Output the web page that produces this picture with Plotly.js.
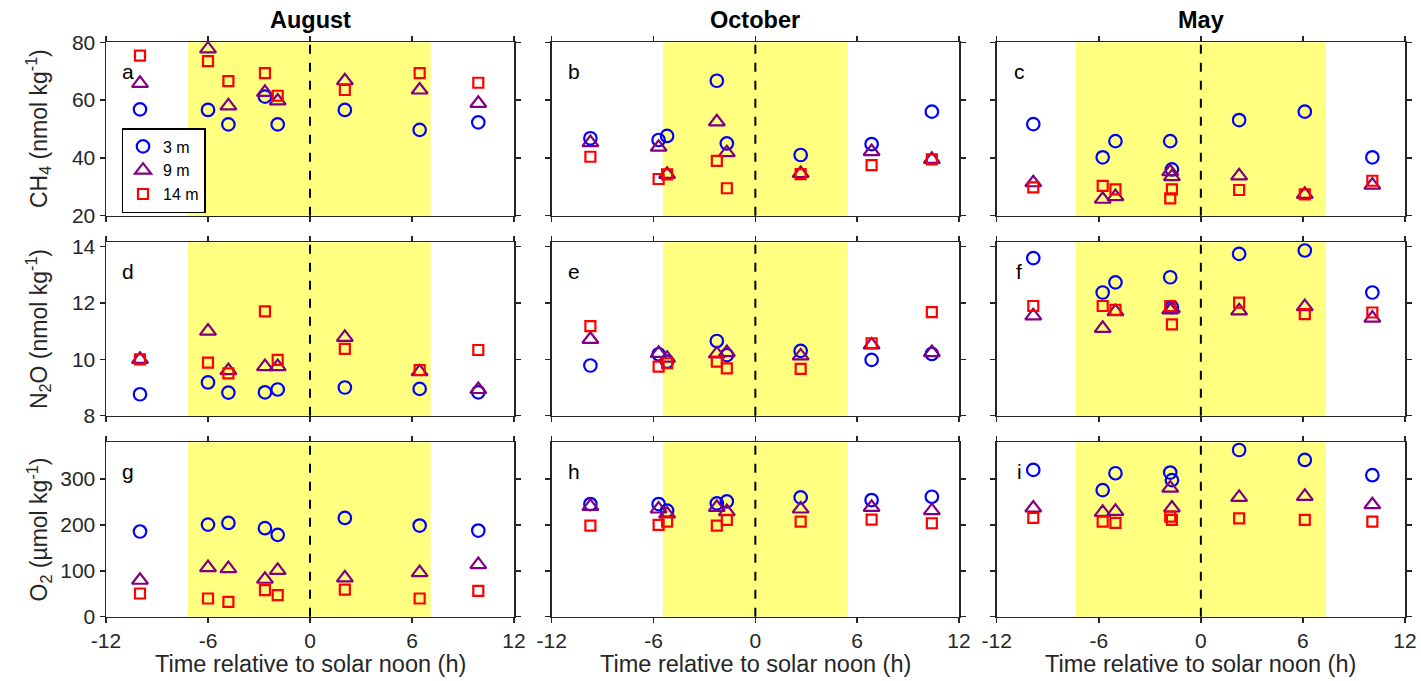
<!DOCTYPE html>
<html>
<head>
<meta charset="utf-8">
<script src="https://cdn.plot.ly/plotly-3.0.1.min.js"></script>
<style>html,body{margin:0;padding:0;background:#fff;}#chart{width:1421px;height:681px;}</style>
</head>
<body>
<div id="chart"></div>
<script>
// ---- Data ----
const months = ["August", "October", "May"];
const panelLetters = ["a","b","c","d","e","f","g","h","i"];
const depths = ["3 m", "9 m", "14 m"];
const xTicks = [-12, -6, 0, 6, 12];
const xTickLabels = ["-12", "-6", "0", "6", "12"];

const augTime = [-10.0, -6.0, -4.8, -2.65, -1.9, 2.05, 6.45, 9.9];
const octTime = [-9.72, -5.7, -5.2, -2.27, -1.68, 2.67, 6.85, 10.4];
const mayTime = [-9.85, -5.77, -5.02, -1.8, -1.7, 2.25, 6.11, 10.08];

// daylight period (h relative to solar noon)
const augDay = [-7.2, 7.1];
const octDay = [-5.45, 5.45];
const mayDay = [-7.35, 7.35];

// CH4 (nmol kg-1)
const augCH4_3m  = [56.8, 56.6, 51.6, 61.2, 51.6, 56.6, 49.7, 52.3];
const augCH4_9m  = [65.8, 77.7, 58.0, 62.7, 59.7, 66.7, 63.5, 58.9];
const augCH4_14m = [75.4, 73.5, 66.6, 69.3, 61.5, 63.5, 69.3, 66.0];
const octCH4_3m  = [46.8, 46.2, 47.6, 66.7, 45.0, 41.0, 44.8, 56.0];
const octCH4_9m  = [45.3, 43.7, 34.3, 52.5, 41.8, 34.6, 42.2, 39.5];
const octCH4_14m = [40.4, 32.7, 34.3, 39.0, 29.5, 34.4, 37.5, 39.5];
const mayCH4_3m  = [51.7, 40.2, 45.8, 45.8, 36.0, 53.1, 56.0, 40.2];
const mayCH4_9m  = [31.4, 25.7, 26.6, 35.2, 33.5, 33.8, 27.4, 30.6];
const mayCH4_14m = [29.8, 30.3, 29.1, 26.0, 29.1, 28.9, 27.4, 32.1];

// N2O (nmol kg-1)
const augN2O_3m  = [8.76, 9.18, 8.82, 8.83, 8.93, 9.00, 8.95, 8.83];
const augN2O_9m  = [10.00, 11.00, 9.60, 9.74, 9.74, 10.78, 9.56, 8.93];
const augN2O_14m = [10.00, 9.88, 9.50, 11.70, 9.98, 10.37, 9.62, 10.33];
const octN2O_3m  = [9.78, 10.18, 9.92, 10.65, 10.15, 10.30, 9.98, 10.19];
const octN2O_9m  = [10.71, 10.21, 10.04, 10.19, 10.24, 10.12, 10.51, 10.24];
const octN2O_14m = [11.18, 9.74, 9.86, 9.92, 9.68, 9.66, 10.57, 11.67];
const mayN2O_3m  = [13.59, 12.37, 12.73, 12.91, 11.85, 13.74, 13.86, 12.37];
const mayN2O_9m  = [11.54, 11.10, 11.69, 11.75, 11.80, 11.72, 11.87, 11.46];
const mayN2O_14m = [11.89, 11.89, 11.75, 11.89, 11.24, 12.01, 11.60, 11.66];

// O2 (umol kg-1)
const augO2_3m  = [185.6, 200.7, 204.3, 192.8, 178.3, 215.2, 198.6, 187.7];
const augO2_9m  = [79.4, 106.9, 104.7, 81.6, 101.1, 84.5, 96.0, 113.4];
const augO2_14m = [50.5, 39.7, 32.5, 57.8, 46.9, 59.2, 39.7, 56.3];
const octO2_3m  = [245.5, 245.5, 231.0, 246.9, 251.3, 259.9, 254.2, 261.4];
const octO2_9m  = [240.4, 234.7, 223.8, 238.3, 228.9, 234.7, 238.3, 231.0];
const octO2_14m = [198.6, 200.0, 207.2, 198.6, 210.8, 207.2, 211.6, 203.6];
const mayO2_3m  = [319.9, 275.8, 312.6, 314.1, 297.5, 363.2, 341.5, 308.3];
const mayO2_9m  = [236.8, 227.4, 229.6, 280.1, 236.8, 259.9, 262.1, 244.0];
const mayO2_14m = [215.2, 207.2, 204.3, 218.0, 210.8, 214.4, 210.8, 207.2];

const yRanges = [[20, 80], [8, 14.15], [0, 380]];
const yTicks = [[20, 40, 60, 80], [8, 10, 12, 14], [0, 100, 200, 300]];
const yTitles = ["CH<sub>4</sub> (nmol kg<sup>-1</sup>)", "N<sub>2</sub>O (nmol kg<sup>-1</sup>)", "O<sub>2</sub> (µmol kg<sup>-1</sup>)"];

// ---- Build ----
const times = [augTime, octTime, mayTime];
const days = [augDay, octDay, mayDay];
const values = [
  [[augCH4_3m, augCH4_9m, augCH4_14m], [octCH4_3m, octCH4_9m, octCH4_14m], [mayCH4_3m, mayCH4_9m, mayCH4_14m]],
  [[augN2O_3m, augN2O_9m, augN2O_14m], [octN2O_3m, octN2O_9m, octN2O_14m], [mayN2O_3m, mayN2O_9m, mayN2O_14m]],
  [[augO2_3m, augO2_9m, augO2_14m], [octO2_3m, octO2_9m, octO2_14m], [mayO2_3m, mayO2_9m, mayO2_14m]]
];
const styles = [
  {symbol: "circle-open", size: 12.5, color: "#0000ff"},
  {symbol: "triangle-up-open", size: 14, color: "#800080"},
  {symbol: "square-open", size: 10, color: "#ff0000"}
];

const W = 1421, H = 681;
const colPx = [[106, 514], [551.7, 959], [996.7, 1405]];
const rowPx = [[42.3, 215.7], [242.3, 415.7], [442.3, 616.7]];
const FONT = "Liberation Sans, Arial, sans-serif";
const AXC = "#262626";

const traces = [];
const layout = {
  width: W, height: H,
  margin: {l: 0, r: 0, t: 0, b: 0},
  paper_bgcolor: "#ffffff", plot_bgcolor: "rgba(0,0,0,0)",
  font: {family: FONT, size: 16, color: "#000"},
  showlegend: true,
  legend: {
    x: 121.5 / W, y: 1 - 128 / H, xanchor: "left", yanchor: "top",
    bgcolor: "#ffffff", bordercolor: "#000", borderwidth: 1.5,
    font: {size: 16, family: FONT, color: "#000"}, itemwidth: 30, tracegroupgap: 0
  },
  shapes: [], annotations: []
};

for (let r = 0; r < 3; r++) {
  for (let c = 0; c < 3; c++) {
    const p = r * 3 + c;
    const n = p + 1;
    const xa = "xaxis" + (n === 1 ? "" : n);
    const ya = "yaxis" + (n === 1 ? "" : n);
    const xr = "x" + (n === 1 ? "" : n);
    const yr = "y" + (n === 1 ? "" : n);
    layout[xa] = {
      domain: [colPx[c][0] / W, colPx[c][1] / W],
      anchor: yr, range: [-12, 12], tickmode: "array", tickvals: xTicks, ticktext: xTickLabels,
      showticklabels: r === 2, ticks: "outside", ticklen: 5, tickwidth: 1.5, tickcolor: AXC,
      showline: true, linecolor: AXC, linewidth: 1.5, mirror: "ticks",
      showgrid: false, zeroline: false, fixedrange: true,
      tickfont: {size: 21, family: FONT, color: AXC}
    };
    layout[ya] = {
      domain: [1 - rowPx[r][1] / H, 1 - rowPx[r][0] / H],
      anchor: xr, range: yRanges[r], tickvals: yTicks[r],
      showticklabels: c === 0, ticks: "outside", ticklen: 5, tickwidth: 1.5, tickcolor: AXC,
      showline: true, linecolor: AXC, linewidth: 1.5, mirror: "ticks",
      showgrid: false, zeroline: false, fixedrange: true,
      tickfont: {size: 21, family: FONT, color: AXC}
    };
    // daylight shading
    layout.shapes.push({
      type: "rect", xref: xr, yref: yr + " domain", x0: days[c][0], x1: days[c][1], y0: 0, y1: 1,
      fillcolor: "#ffff80", line: {width: 0}, layer: "below"
    });
    // solar noon line
    layout.shapes.push({
      type: "line", xref: xr, yref: yr + " domain", x0: 0, x1: 0, y0: 0, y1: 1,
      line: {color: "#000", width: 2, dash: "dash"}, layer: "above"
    });
    // panel letter
    layout.annotations.push({
      text: panelLetters[p], xref: xr + " domain", yref: yr + " domain",
      x: 0.055, y: 0.83, xanchor: "center", yanchor: "middle", showarrow: false,
      font: {size: 21, family: FONT, color: "#000"}
    });
    for (let s = 0; s < 3; s++) {
      traces.push({
        type: "scatter", mode: "markers", xaxis: xr, yaxis: yr,
        x: times[c], y: values[r][c][s], name: depths[s],
        showlegend: p === 0, legendgroup: depths[s], cliponaxis: false,
        marker: {symbol: styles[s].symbol, size: styles[s].size, color: styles[s].color, line: {width: 2.2, color: styles[s].color}}
      });
    }
  }
}

// column titles and x titles
for (let c = 0; c < 3; c++) {
  layout.annotations.push({
    text: "<b>" + months[c] + "</b>", xref: "paper", yref: "paper",
    x: (colPx[c][0] + colPx[c][1]) / 2 / W, y: 1 - 20 / H, xanchor: "center", yanchor: "middle",
    showarrow: false, font: {size: 23.5, family: FONT, color: "#000"}
  });
  layout.annotations.push({
    text: "Time relative to solar noon (h)", xref: "paper", yref: "paper",
    x: (colPx[c][0] + colPx[c][1]) / 2 / W, y: 1 - 664 / H, xanchor: "center", yanchor: "middle",
    showarrow: false, font: {size: 23.5, family: FONT, color: AXC}
  });
}
// y titles
for (let r = 0; r < 3; r++) {
  layout.annotations.push({
    text: yTitles[r], xref: "paper", yref: "paper", textangle: -90,
    x: 38 / W, y: 1 - (rowPx[r][0] + rowPx[r][1]) / 2 / H, xanchor: "center", yanchor: "middle",
    showarrow: false, font: {size: 23, family: FONT, color: AXC}
  });
}

Plotly.newPlot("chart", traces, layout, {staticPlot: true, displayModeBar: false});
</script>
</body>
</html>
